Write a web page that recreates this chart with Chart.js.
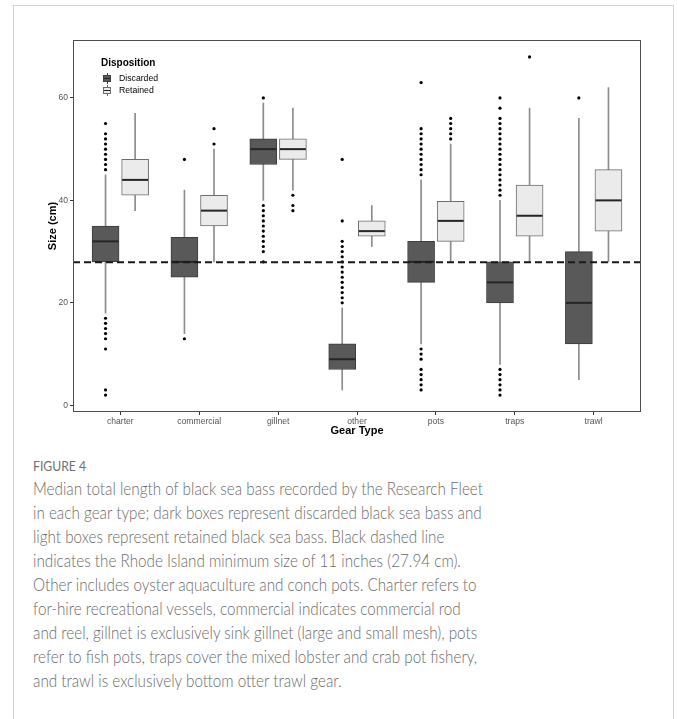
<!DOCTYPE html>
<html>
<head>
<meta charset="utf-8">
<script src="https://cdn.jsdelivr.net/npm/chart.js@4.4.1/dist/chart.umd.min.js"></script>
<style>
  html, body { margin: 0; padding: 0; background: #fff; }
  body { width: 677px; height: 719px; position: relative; overflow: hidden; font-family: "Liberation Sans", Arial, sans-serif; }
  #frame { position: absolute; left: 13px; top: 5px; width: 659px; height: 800px; border: 1px solid #d4d4d4; border-bottom: none; }
  #wrap { position: absolute; left: 0; top: 0; width: 677px; height: 440px; }
  #legend { position: absolute; left: 101px; top: 56px; color: #000; }
  .lg-title { font-weight: bold; font-size: 10px; line-height: 13px; height: 13px; margin-bottom: 4px; }
  .lg-item { font-size: 8.7px; line-height: 11.7px; height: 11.7px; position: relative; padding-left: 18px; }
  .key { position: absolute; left: 2px; top: 0; width: 8px; height: 11px; }
  .key .stub { position: absolute; left: 3.5px; top: 0; width: 1px; height: 11px; }
  .key .box { position: absolute; left: 0; top: 2px; width: 6px; height: 5px; border: 1px solid; }
  .key .mid { position: absolute; left: 1px; top: 5px; width: 6px; height: 1px; }
  .dark .stub { background: #3d3d3d; }
  .dark .box { background: #595959; border-color: #3d3d3d; }
  .dark .mid { background: #262626; }
  .light .stub { background: #6e6e6e; }
  .light .box { background: #ebebeb; border-color: #6e6e6e; }
  .light .mid { background: #262626; }
  #caption { position: absolute; left: 33px; top: 458px; color: #6b6b6b; font-family: Lato, "Open Sans", sans-serif; transform-origin: 0 0; white-space: nowrap; }
  .fig { font-size: 14px; line-height: 16px; font-weight: 400; color: #707070; }
  .para { position: absolute; left: 0; top: 19px; font-size: 17.5px; line-height: 24px; font-weight: 300; }
</style>
</head>
<body>
<div id="frame"></div>
<div id="wrap">
  <canvas id="chart" width="677" height="440"></canvas>
  <div id="legend">
    <div class="lg-title">Disposition</div>
    <div class="lg-item"><span class="key dark"><span class="stub"></span><span class="box"></span><span class="mid"></span></span>Discarded</div>
    <div class="lg-item"><span class="key light"><span class="stub"></span><span class="box"></span><span class="mid"></span></span>Retained</div>
  </div>
</div>
<div id="caption">
  <div class="fig">FIGURE 4</div>
  <div class="para">
    <span id="firstLine">Median total length of black sea bass recorded by the Research Fleet</span><br>
    in each gear type; dark boxes represent discarded black sea bass and<br>
    light boxes represent retained black sea bass. Black dashed line<br>
    indicates the Rhode Island minimum size of 11 inches (27.94 cm).<br>
    Other includes oyster aquaculture and conch pots. Charter refers to<br>
    for-hire recreational vessels, commercial indicates commercial rod<br>
    and reel, gillnet is exclusively sink gillnet (large and small mesh), pots<br>
    refer to fish pots, traps cover the mixed lobster and crab pot fishery,<br>
    and trawl is exclusively bottom otter trawl gear.
  </div>
</div>
<script>
// gear types on the x axis
const gearTypes = ['charter', 'commercial', 'gillnet', 'other', 'pots', 'traps', 'trawl'];
const yTickValues = [0, 20, 40, 60];
const minSizeCm = 27.94;

// discarded fish (dark boxes)
const discLower = [18, 14, 40, 3, 12, 8, 5];
const discQ1 = [28, 25, 47, 7, 24, 20, 12];
const discMedian = [32, 28, 50, 9, 28, 24, 20];
const discQ3 = [35, 32.8, 52, 12, 32, 28, 30];
const discUpper = [45, 42, 59, 19, 44, 40, 56];
const discOutliers = [
  [55, 53, 52, 51, 50, 49, 48, 47, 46, 17, 16, 15, 14, 13, 11, 3, 2],
  [48, 13],
  [60, 39, 38, 37, 36, 35, 34, 33, 32, 31, 30, 28],
  [48, 36, 32, 31, 30, 29, 28, 27, 26, 25, 24, 23, 22, 21, 20],
  [63, 54, 53, 52, 51, 50, 49, 48, 47, 46, 45, 11, 10, 9, 7, 6, 5, 4, 3],
  [60, 58, 56, 55, 54, 53, 52, 51, 50, 49, 48, 47, 46, 45, 44, 43, 42, 41, 7, 6, 5, 4, 3, 2],
  [60],
];

// retained fish (light boxes)
const retLower = [38, 28, 42, 31, 28, 28, 28];
const retQ1 = [41, 35, 48, 33, 32, 33, 34];
const retMedian = [44, 38, 50, 34, 36, 37, 40];
const retQ3 = [48, 41, 52, 36, 39.8, 43, 46];
const retUpper = [57, 50, 58, 39, 51, 58, 62];
const retOutliers = [
  [],
  [54, 51],
  [41, 39, 38],
  [],
  [56, 55, 54, 53, 52],
  [68],
  [],
];

const DODGE = 0.1875;
const X_MIN = -0.6;
const X_MAX = gearTypes.length - 1 + 0.6;
const FONT = 'Liberation Sans';

function rangeData(lo, hi, shift) {
  return gearTypes.map((g, i) => ({ x: i + shift, y: [lo[i], hi[i]] }));
}
function pointData(vals, shift) {
  return gearTypes.map((g, i) => ({ x: i + shift, y: vals[i] }));
}
function outlierData(lists, shift) {
  const out = [];
  lists.forEach((list, i) => list.forEach(v => out.push({ x: i + shift, y: v })));
  return out;
}

const panelFrame = {
  id: 'panelFrame',
  afterDraw(chart) {
    const { ctx, chartArea: a } = chart;
    ctx.save();
    ctx.strokeStyle = '#4d4d4d';
    ctx.lineWidth = 1;
    ctx.strokeRect(a.left + 0.5, a.top + 0.5, a.right - a.left - 1, a.bottom - a.top - 1);
    ctx.restore();
  }
};

const data = {
  datasets: [
    { type: 'bar', data: rangeData(discLower, discUpper, -DODGE), backgroundColor: '#8c8c8c', barThickness: 1, grouped: false, order: 6 },
    { type: 'bar', data: rangeData(retLower, retUpper, DODGE), backgroundColor: '#8c8c8c', barThickness: 1, grouped: false, order: 6 },
    { type: 'bar', label: 'Discarded', data: rangeData(discQ1, discQ3, -DODGE), backgroundColor: '#595959', borderColor: '#3d3d3d', borderWidth: 1, borderSkipped: false, barThickness: 27, grouped: false, order: 5 },
    { type: 'bar', label: 'Retained', data: rangeData(retQ1, retQ3, DODGE), backgroundColor: '#ebebeb', borderColor: '#6e6e6e', borderWidth: 1, borderSkipped: false, barThickness: 27, grouped: false, order: 5 },
    { type: 'scatter', data: pointData(discMedian, -DODGE), pointStyle: 'line', pointRadius: 13, pointHoverRadius: 13, borderColor: '#262626', borderWidth: 2, order: 4 },
    { type: 'scatter', data: pointData(retMedian, DODGE), pointStyle: 'line', pointRadius: 13, pointHoverRadius: 13, borderColor: '#262626', borderWidth: 2, order: 4 },
    { type: 'scatter', data: outlierData(discOutliers, -DODGE), pointRadius: 1.6, backgroundColor: '#000', borderWidth: 0, order: 3 },
    { type: 'scatter', data: outlierData(retOutliers, DODGE), pointRadius: 1.6, backgroundColor: '#000', borderWidth: 0, order: 3 },
    { type: 'line', data: [{ x: X_MIN, y: minSizeCm }, { x: X_MAX, y: minSizeCm }], borderColor: '#1a1a1a', borderWidth: 2, borderDash: [7, 4], pointRadius: 0, order: 1 },
  ]
};

const config = {
  type: 'bar',
  data: data,
  plugins: [panelFrame],
  options: {
    responsive: false,
    animation: false,
    layout: { padding: { left: 46.4, top: 40, right: 36, bottom: 2.4 } },
    plugins: { legend: { display: false }, tooltip: { enabled: false } },
    scales: {
      x: {
        type: 'linear', min: X_MIN, max: X_MAX, offset: false,
        afterBuildTicks: s => { s.ticks = gearTypes.map((g, i) => ({ value: i })); },
        afterFit: s => { s.height = 25.6; },
        ticks: { callback: v => gearTypes[v], color: '#555', font: { family: FONT, size: 8.6 }, padding: 1, maxRotation: 0, autoSkip: false },
        grid: { display: true, drawOnChartArea: false, drawTicks: true, tickLength: 3, color: '#333', offset: false },
        border: { display: false },
        title: { display: true, text: 'Gear Type', color: '#000', font: { family: FONT, size: 11, weight: 'bold' }, padding: 0 },
      },
      y: {
        type: 'linear', min: -1.3, max: 71.3,
        afterBuildTicks: s => { s.ticks = yTickValues.map(v => ({ value: v })); },
        afterFit: s => { s.width = 26.6; },
        ticks: { color: '#555', font: { family: FONT, size: 8.6 }, padding: 2 },
        grid: { display: true, drawOnChartArea: false, drawTicks: true, tickLength: 3, color: '#333' },
        border: { display: false },
        title: { display: true, text: 'Size (cm)', color: '#000', font: { family: FONT, size: 11, weight: 'bold' }, padding: 0 },
      },
    },
  },
};

new Chart(document.getElementById('chart'), config);

// fit caption width to the reference line length
const cap = document.getElementById('caption');
const w = document.getElementById('firstLine').getBoundingClientRect().width;
cap.style.transform = 'scaleX(' + (450 / w) + ')';
</script>
</body>
</html>
